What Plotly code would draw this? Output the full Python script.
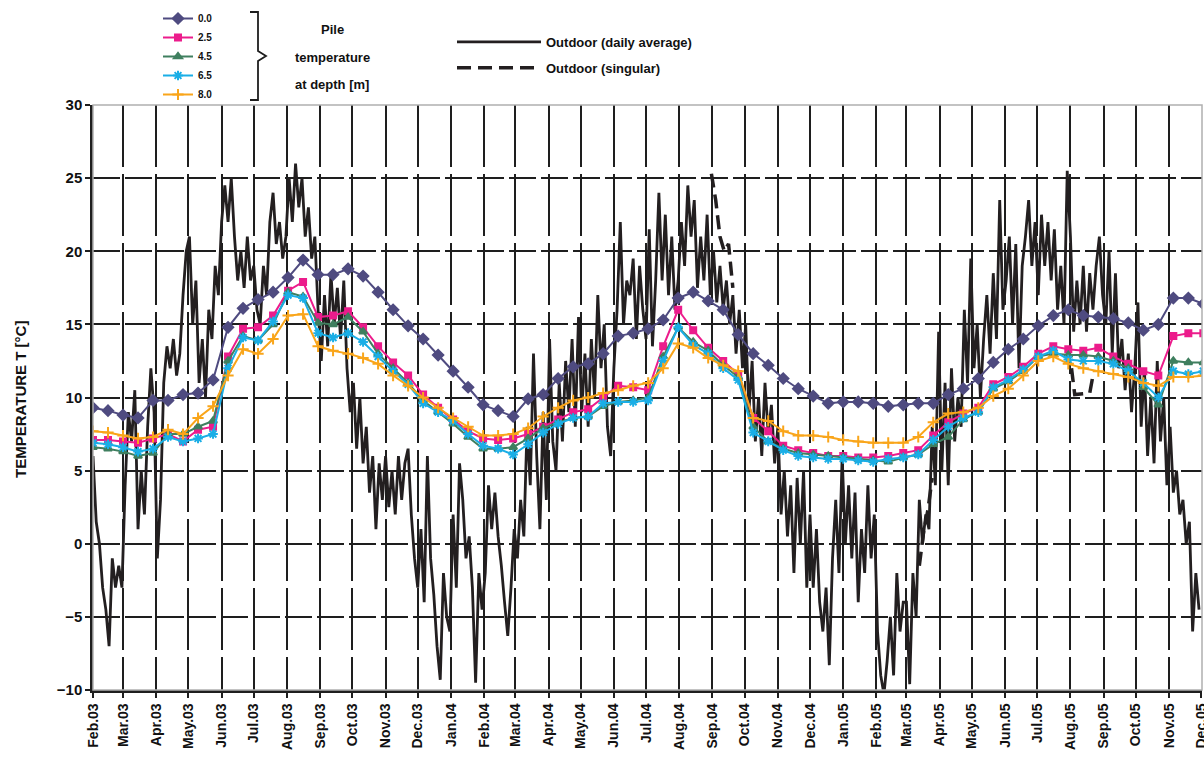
import pandas as pd
import plotly.graph_objects as go

# ---------------- data ----------------
month_labels = ["Feb.03", "Mar.03", "Apr.03", "May.03", "Jun.03", "Jul.03", "Aug.03", "Sep.03",
                "Oct.03", "Nov.03", "Dec.03", "Jan.04", "Feb.04", "Mar.04", "Apr.04", "May.04",
                "Jun.04", "Jul.04", "Aug.04", "Sep.04", "Oct.04", "Nov.04", "Dec.04", "Jan.05",
                "Feb.05", "Mar.05", "Apr.05", "May.05", "Jun.05", "Jul.05", "Aug.05", "Sep.05",
                "Oct.05", "Nov.05", "Dec.05"]
month_starts = pd.date_range("2003-02-01", periods=len(month_labels), freq="MS")

# outdoor daily average, one reading every 3 days from 2003-02-01
outdoor_start = "2003-02-01"
outdoor_step_days = 3
outdoor_daily_avg = [
    6, 1.5, 0, -3, -4.5, -7, -1, -3, -1.5, -3,                 # Feb 03
    4, 9, 7, 10.5, 1, 5, 2, 8, 12, 9,                          # Mar 03
    -1, 3, 11, 13.5, 12, 14, 11.5, 13, 17, 20,                 # Apr 03
    21, 15, 18, 11, 14, 10, 16, 14, 19, 17,                    # May 03
    22, 24.5, 22, 25, 21, 18, 20, 17.5, 21, 18,                # Jun 03
    19, 16, 15, 19, 17, 22, 24, 20.5, 22, 19.5,                # Jul 03
    21, 25, 22, 26, 23, 25, 21, 23, 19.5, 21, 16,              # Aug 03
    12.5, 17, 13.5, 18.5, 15, 17.5, 14, 18, 12, 9,             # Sep 03
    11, 6.5, 10, 5.5, 8, 3.5, 6, 1, 5.5, 3,                    # Oct 03
    6, 2.5, 5, 2, 6, 3, 5.5, 6.5, 2, -1,                       # Nov 03
    -3, 1, -4, 6, -1, -3.5, -7, -9.3, -2, -5,                  # Dec 03
    -6, 2, -3, 5.5, 3, -1, 0.5, -3, -9.5, -2, -4.5,            # Jan 04
    -2, 4, 1, 3.5, 0.5, -1.5, -4, -6.3, -3, 1,                 # Feb 04
    -1, 3, 0.5, 8, 4, 13, 6, 1, 9, 3,                          # Mar 04
    14, 7, 5, 11, 7, 12.5, 9, 14, 8, 15.5,                     # Apr 04
    9, 13, 8, 14, 10, 17, 12, 15, 8, 6,                        # May 04
    12, 16, 22, 15, 18, 17, 19.5, 14, 19, 16,                  # Jun 04
    14, 21.5, 13.5, 18, 24, 18, 22.5, 17, 21, 16,              # Jul 04
    18, 22, 19, 24.5, 21, 23.5, 17.5, 21, 18, 22.5, 17,        # Aug 04
    20, 16.5, 19, 16, 18, 15, 17, 13, 16, 12,                  # Sep 04
    15, 9, 12.5, 7, 10, 6, 11, 7.5, 9.5, 5.5,                  # Oct 04
    8, 2, 5, 0.5, 4, -2, 4.5, 0, 5, -3,                        # Nov 04
    2, -3, 1, -4, -6, -3, -8.3, -1, 3, -2,                     # Dec 04
    6, 0, 4, -1, 3.5, -4, 1, -2, 4, -1, 2,                     # Jan 05
    -6, -9, -10.3, -8, -5, -9, -2, -6, -4,                     # Feb 05
    -4, -9.6, -2, -5, 3, 0, 2, 1, 8, 4,                        # Mar 05
    14.5, 5, 11, 4, 12, 7, 10, 8, 16, 11,                      # Apr 05
    19.5, 12, 15, 10, 14, 17, 13, 18.5, 14, 23.5, 16,          # May 05
    18, 21, 15, 20.5, 12, 19, 21, 23.5, 19, 22,                # Jun 05
    17, 22.5, 19, 22, 18, 21.5, 16, 19, 15, 25.5,              # Jul 05
    21, 14.5, 18, 15, 19, 14.5, 18.5, 16, 19, 21, 17,          # Aug 05
    15, 20, 13, 18.5, 12, 14, 10.5, 13, 9, 12,                 # Sep 05
    16.5, 8, 12, 6, 10, 5.5, 12.5, 7, 10, 4,                   # Oct 05
    8, 3.5, 5, 2, 3, 0, 1.5, -6, -2, -4.5,                     # Nov 05
]

# outdoor singular readings (separate pieces)
outdoor_singular_dates = ["2004-08-31", "2004-09-04", "2004-09-08", "2004-09-12", "2004-09-16", "2004-09-20", None,
                          "2005-03-13", "2005-03-17", "2005-03-21", "2005-03-25", None,
                          "2005-08-02", "2005-08-05", "2005-08-19", "2005-08-22"]
outdoor_singular = [25.3, 23.5, 21, 20, 20.5, 17.5, None,
                    -1.5, 0.8, 2.3, 4.5, None,
                    12, 10.2, 10.3, 11.5]

# pile temperatures, one reading every 14 days from 2003-02-01
pile_start = "2003-02-01"
pile_step_days = 14
depth_labels = ["0.0", "2.5", "4.5", "6.5", "8.0"]
pile_0_0 = [9.3, 9.1, 8.8, 8.6, 9.8, 9.8, 10.2, 10.3, 11.2, 14.8,
            16.1, 16.7, 17.2, 18.2, 19.4, 18.4, 18.4, 18.8, 18.3, 17.2,
            16.0, 14.9, 14.0, 12.9, 11.8, 10.7, 9.5, 9.1, 8.7, 9.9,
            10.2, 11.3, 12.1, 12.3, 13.0, 14.2, 14.4, 14.7, 15.3, 16.8,
            17.2, 16.6, 16.0, 14.3, 13.0, 12.2, 11.3, 10.6, 10.1, 9.6,
            9.7, 9.7, 9.6, 9.4, 9.5, 9.6, 9.6, 10.2, 10.6, 11.3,
            12.4, 13.3, 14.0, 14.9, 15.6, 16.0, 15.6, 15.5, 15.4, 15.1,
            14.6, 15.0, 16.8, 16.8, 16.4]
pile_2_5 = [7.1, 7.1, 7.0, 6.9, 7.2, 7.5, 7.0, 7.8, 8.0, 12.8,
            14.7, 14.8, 15.6, 17.3, 17.9, 15.5, 15.6, 15.9, 14.8, 13.5,
            12.4, 11.5, 10.2, 9.3, 8.5, 7.7, 7.2, 7.1, 7.2, 7.5,
            8.0, 8.5, 9.0, 9.2, 10.0, 10.8, 10.7, 10.5, 13.5, 16.0,
            14.6, 13.4, 12.5, 11.6, 8.6, 7.7, 6.7, 6.4, 6.2, 6.0,
            6.0, 5.9, 5.9, 6.0, 6.2, 6.4, 7.4, 8.3, 8.9, 9.3,
            10.9, 11.4, 12.1, 13.0, 13.5, 13.3, 13.2, 13.4, 12.8, 12.3,
            11.8, 11.5, 14.2, 14.4, 14.4]
pile_4_5 = [6.6, 6.5, 6.3, 6.0, 6.2, 7.5, 7.5, 8.0, 8.4, 12.5,
            14.2, 13.9, 15.0, 17.2, 16.9, 15.1, 15.0, 15.5, 14.5, 13.0,
            12.0, 11.0, 9.8, 9.0, 8.2, 7.3, 6.5, 6.5, 6.6, 7.2,
            7.9, 8.3, 8.6, 8.7, 9.4, 9.7, 9.8, 10.0, 12.8, 14.8,
            13.8, 13.2, 12.2, 11.4, 8.0, 7.0, 6.5, 6.2, 6.1, 6.0,
            5.9, 5.8, 5.7, 5.6, 5.9, 6.1, 6.8, 7.3, 8.5, 9.0,
            10.6, 11.1, 11.8, 12.8, 13.0, 12.9, 12.9, 12.8, 12.5, 12.0,
            10.7, 9.5, 12.5, 12.4, 12.4]
pile_6_5 = [6.9, 6.8, 6.6, 6.3, 6.5, 7.3, 7.0, 7.2, 7.5, 12.0,
            14.1, 13.9, 15.2, 17.0, 16.8, 14.4, 14.1, 14.4, 13.8, 12.8,
            11.8, 10.9, 9.6, 9.0, 8.4, 7.5, 6.7, 6.5, 6.1, 6.8,
            7.6, 8.2, 8.6, 8.7, 9.6, 9.7, 9.7, 9.8, 12.5, 14.8,
            13.6, 13.0, 12.0, 11.2, 7.6, 7.0, 6.4, 6.0, 5.9, 5.8,
            5.8, 5.7, 5.6, 5.8, 5.9, 6.1, 7.1, 8.0, 8.6, 9.0,
            10.7, 11.2, 11.9, 12.8, 13.2, 12.6, 12.5, 12.5, 12.3, 11.8,
            11.0, 10.0, 11.8, 11.6, 11.8]
pile_8_0 = [7.7, 7.6, 7.4, 7.2, 7.3, 7.8, 7.5, 8.6, 9.4, 11.5,
            13.3, 13.0, 14.0, 15.6, 15.7, 13.5, 13.2, 13.0, 12.7, 12.3,
            11.5, 10.8, 10.0, 9.3, 8.6, 8.0, 7.4, 7.4, 7.5, 7.9,
            8.7, 9.3, 9.8, 10.0, 10.3, 10.5, 10.8, 11.0, 12.0, 13.7,
            13.4, 12.7, 12.2, 11.8, 8.6, 8.4, 7.7, 7.4, 7.4, 7.3,
            7.1, 7.0, 6.9, 6.9, 6.9, 7.3, 8.3, 8.9, 9.0, 9.3,
            10.1, 10.6, 11.5, 12.5, 12.8, 12.3, 12.0, 11.8, 11.6, 11.4,
            11.0, 10.8, 11.4, 11.4, 11.5]

y_ticks = [-10, -5, 0, 5, 10, 15, 20, 25, 30]
pile_title_lines = ["Pile", "temperature", "at depth [m]"]

# ---------------- figure ----------------
W, H = 1204, 771
ML, MR, MT, MB = 93, 2, 105, 81
PW, PH = W - ML - MR, H - MT - MB

def px(x):
    return (x - ML) / PW

def py(y):
    return (H - MB - y) / PH

def cx(x):
    return x / W

def cy(y):
    return 1 - y / H

FONT = "Liberation Sans"
BOLD = dict(family=FONT, color="#111111", weight="bold")

outdoor_dates = pd.date_range(outdoor_start, periods=len(outdoor_daily_avg), freq=f"{outdoor_step_days}D")
pile_dates = pd.date_range(pile_start, periods=len(pile_0_0), freq=f"{pile_step_days}D")

fig = go.Figure()

fig.add_trace(go.Scatter(
    x=outdoor_dates, y=outdoor_daily_avg, mode="lines", name="Outdoor (daily average)",
    line=dict(color="#231f20", width=2.8), legend="legend2", legendgroup="avg"))
fig.add_trace(go.Scatter(
    x=outdoor_singular_dates, y=outdoor_singular, mode="lines", name="Outdoor (singular)",
    line=dict(color="#231f20", width=3.5, dash="14px,7px"), connectgaps=False,
    legend="legend2", legendgroup="sing"))

pile_series = [pile_0_0, pile_2_5, pile_4_5, pile_6_5, pile_8_0]
colors = ["#4f4b80", "#ec1c8c", "#3f7f5f", "#1aaee6", "#f9a51a"]
symbols = ["diamond", "square", "triangle-up", "asterisk-open", "cross-thin-open"]
sizes = [8, 6, 7, 8, 8]
for vals, name, col, sym, sz in zip(pile_series, depth_labels, colors, symbols, sizes):
    fig.add_trace(go.Scatter(
        x=pile_dates, y=vals, mode="lines+markers", name=name,
        line=dict(color=col, width=2),
        marker=dict(symbol=sym, size=sz, color=col, line=dict(color=col, width=2)),
        legend="legend"))

annotations = [
    dict(xref="paper", yref="paper", x=px(332), y=py(yy), xanchor="center", yanchor="middle",
         text=t, showarrow=False, font=dict(size=13, **BOLD))
    for t, yy in zip(pile_title_lines, [29, 57, 85])
]
annotations.append(
    dict(xref="paper", yref="paper", x=px(20), y=py(400), xanchor="center", yanchor="middle",
         text="TEMPERATURE T [°C]", textangle=-90, showarrow=False,
         font=dict(size=15, **BOLD)))

fig.update_layout(
    width=W, height=H,
    margin=dict(l=ML, r=MR, t=MT, b=MB, autoexpand=False),
    paper_bgcolor="white", plot_bgcolor="white",
    showlegend=True,
    legend=dict(xref="container", yref="container", x=cx(158), y=cy(4), xanchor="left", yanchor="top",
                font=dict(size=10, **BOLD), bgcolor="rgba(0,0,0,0)",
                tracegroupgap=0, itemwidth=30, traceorder="normal"),
    legend2=dict(xref="container", yref="container", x=cx(452), y=cy(27), xanchor="left", yanchor="top",
                 font=dict(size=13, **BOLD), bgcolor="rgba(0,0,0,0)",
                 itemwidth=84, traceorder="grouped", tracegroupgap=6),
    xaxis=dict(
        type="date", range=[month_starts[0], pd.Timestamp("2005-12-01 18:00")],
        tickvals=month_starts, ticktext=month_labels, tickangle=-90,
        tickfont=dict(size=14, **BOLD), ticklabeloverflow="allow",
        showgrid=True, gridcolor="#1e1e1e", gridwidth=1.8, griddash="62px,7px",
        showline=True, linecolor="#1e1e1e", linewidth=2.5,
        ticks="outside", ticklen=5, tickcolor="#1e1e1e", tickwidth=1.5,
        zeroline=False),
    yaxis=dict(
        range=[-10, 30], tickvals=y_ticks,
        tickfont=dict(size=15, **BOLD),
        showgrid=True, gridcolor="#1e1e1e", gridwidth=1.8, griddash="27px,5px",
        showline=True, linecolor="#1e1e1e", linewidth=2.5,
        ticks="outside", ticklen=5, tickcolor="#1e1e1e", tickwidth=1.5,
        zeroline=False),
    shapes=[
        dict(type="rect", xref="paper", yref="paper", x0=0, y0=0, x1=1, y1=1,
             line=dict(color="#b0b0b0", width=1.5), layer="above"),
        dict(type="path", xref="paper", yref="paper",
             path=(f"M {px(250)},{py(12)} L {px(258)},{py(12)} L {px(258)},{py(51)} "
                   f"L {px(266)},{py(56)} L {px(258)},{py(61)} L {px(258)},{py(100)} "
                   f"L {px(250)},{py(100)}"),
             line=dict(color="#1e1e1e", width=1.8)),
    ],
    annotations=annotations,
)

fig.write_html("out.html", config={"displayModeBar": False},
               post_script="document.body.style.margin='0px';")
